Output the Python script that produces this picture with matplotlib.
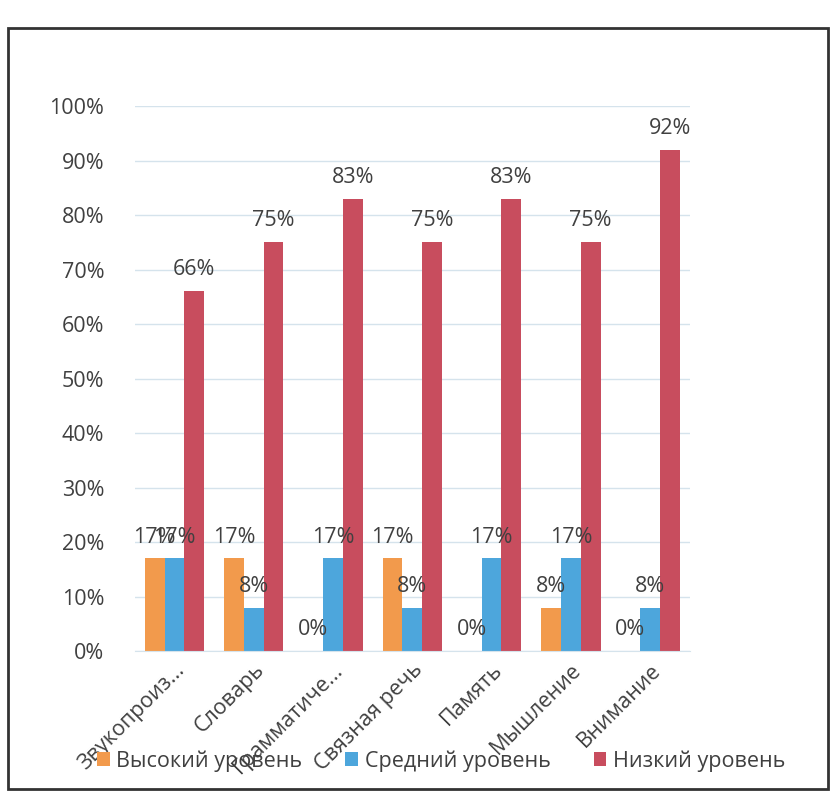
import matplotlib.pyplot as plt
import numpy as np
from matplotlib.patches import Rectangle

plt.rcParams['font.family'] = ['Open Sans', 'DejaVu Sans']

categories = ['Звукопроиз...', 'Словарь', 'Грамматиче...', 'Связная речь',
              'Память', 'Мышление', 'Внимание']
high = [17, 17, 0, 17, 0, 8, 0]
medium = [17, 8, 17, 8, 17, 17, 8]
low = [66, 75, 83, 75, 83, 75, 92]
series_names = ['Высокий уровень', 'Средний уровень', 'Низкий уровень']

colors = ['#F29A4C', '#4DA6DC', '#C84D5E']
text_col = '#404040'
fs = 15.5

fig = plt.figure(figsize=(8.32, 7.97), dpi=100)
ax = fig.add_axes([0.162, 0.183, 0.667, 0.684])

x = np.arange(len(categories))
w = 0.25
for i, (vals, name) in enumerate(zip([high, medium, low], series_names)):
    pos = x + (i - 1) * w
    ax.bar(pos, vals, width=w, color=colors[i], label=name, zorder=2)
    for p, v in zip(pos, vals):
        ax.text(p, v + 2.0, f'{v}%', ha='center', va='bottom',
                fontsize=fs, color=text_col, zorder=3)

ax.set_xlim(-0.5, len(categories) - 0.5)
ax.set_ylim(0, 100)
ax.set_yticks(range(0, 101, 10))
ax.set_yticklabels([f'{t}%' for t in range(0, 101, 10)], fontsize=fs, color=text_col)
ax.yaxis.grid(True, color='#D5E3EC', linewidth=1, zorder=0)
ax.tick_params(axis='y', length=0, pad=22)
ax.tick_params(axis='x', length=0, pad=6)
ax.set_xticks(x)
ax.set_xticklabels(categories, rotation=45, ha='right', rotation_mode='anchor',
                   fontsize=fs, color=text_col)
for s in ['top', 'right', 'left']:
    ax.spines[s].set_visible(False)
ax.spines['bottom'].set_color('#D5E3EC')

leg = fig.legend(loc='center', bbox_to_anchor=(0.53, 0.045), ncol=3, frameon=False,
                 fontsize=fs, handlelength=0.6, handleheight=0.6, columnspacing=2.0,
                 handletextpad=0.3)
for t in leg.get_texts():
    t.set_color(text_col)

fig.patches.append(Rectangle((0.01, 0.01), 0.985, 0.955, transform=fig.transFigure,
                             fill=False, edgecolor='#333333', linewidth=2))

fig.savefig('out.png', dpi=100)
